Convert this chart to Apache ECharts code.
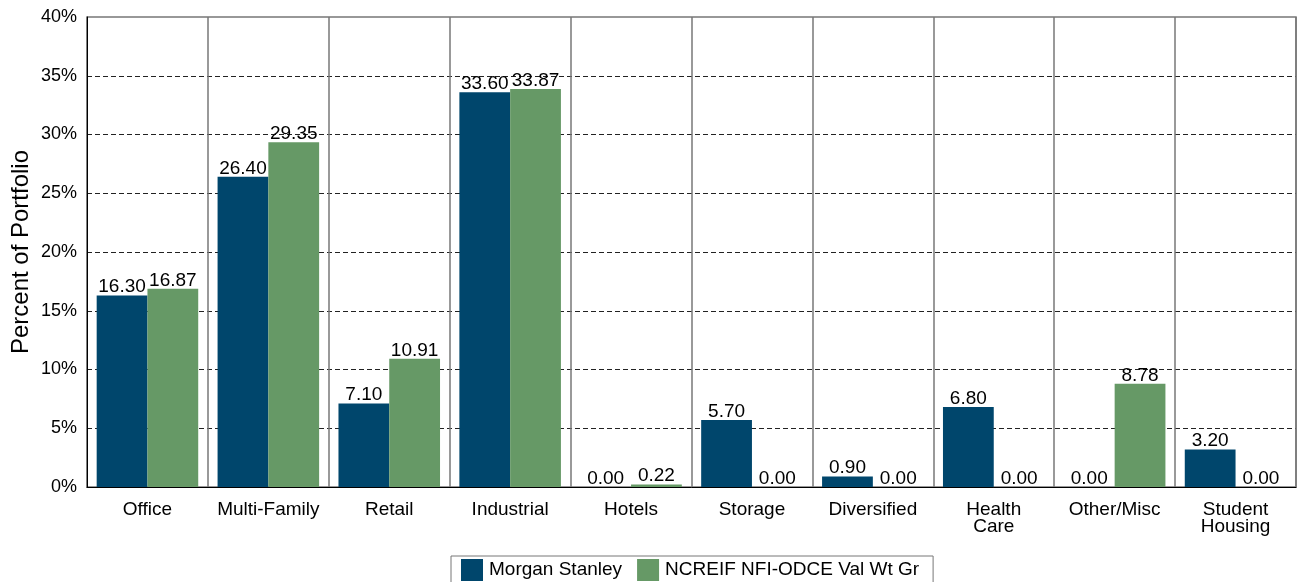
<!DOCTYPE html>
<html><head><meta charset="utf-8">
<script src="https://cdn.jsdelivr.net/npm/echarts@6/dist/echarts.min.js"></script>
<style>html,body{margin:0;padding:0;background:#fff}#c{width:1303px;height:582px}</style>
</head><body><div id="c"></div>
<script>
const categories = ["Office","Multi-Family","Retail","Industrial","Hotels","Storage","Diversified","Health\nCare","Other/Misc","Student\nHousing"];
const morganStanley = [16.30,26.40,7.10,33.60,0.00,5.70,0.90,6.80,0.00,3.20];
const ncreif = [16.87,29.35,10.91,33.87,0.22,0.00,0.00,0.00,8.78,0.00];
const seriesNames = ["Morgan Stanley","NCREIF NFI-ODCE Val Wt Gr"];
const yTicks = [0,5,10,15,20,25,30,35,40];

const font = "'Liberation Sans', Arial, sans-serif";
const chart = echarts.init(document.getElementById('c'));
const lbl = {show:true, position:'top', distance:-1, color:'#000', fontSize:19, fontFamily:font, formatter:p=>p.value.toFixed(2)};
chart.setOption({
  animation:false,
  textStyle:{fontFamily:font},
  grid:{left:87,right:7,top:17,bottom:95,show:true,borderColor:'#777',borderWidth:1.5,containLabel:false,outerBoundsMode:'none'},
  legend:{top:556,left:451,itemWidth:22,itemHeight:22,itemGap:15,padding:[3,14,12,10],borderColor:'#777',borderWidth:1,
    textStyle:{fontSize:19,color:'#000',fontFamily:font,padding:[0,0,0,1]},icon:'rect',data:seriesNames},
  xAxis:{type:'category',data:categories,
    axisLine:{lineStyle:{color:'#000',width:1}},axisTick:{show:false,interval:0},
    axisLabel:{interval:0,fontSize:19,color:'#000',margin:14,lineHeight:17,fontFamily:font},
    splitLine:{show:true,interval:0,lineStyle:{color:'#777',width:1.5}}},
  yAxis:{type:'value',min:yTicks[0],max:yTicks[yTicks.length-1],interval:5,
    name:'Percent of Portfolio',nameLocation:'middle',nameGap:54,nameMoveOverlap:false,
    nameTextStyle:{fontSize:24,color:'#000',fontFamily:font},
    axisLine:{show:true,lineStyle:{color:'#000'}},axisTick:{show:false},
    axisLabel:{fontSize:18,color:'#000',formatter:'{value}%',margin:10,fontFamily:font},
    splitLine:{show:true,showMaxLine:false,showMinLine:false,lineStyle:{color:'#222',type:[5,3],width:1}}},
  series:[
    {name:seriesNames[0],type:'bar',data:morganStanley,barGap:'0%',barCategoryGap:'16%',itemStyle:{color:'#00466c'},label:lbl},
    {name:seriesNames[1],type:'bar',data:ncreif,barGap:'0%',barCategoryGap:'16%',itemStyle:{color:'#669966'},label:lbl}
  ]
});
</script></body></html>
